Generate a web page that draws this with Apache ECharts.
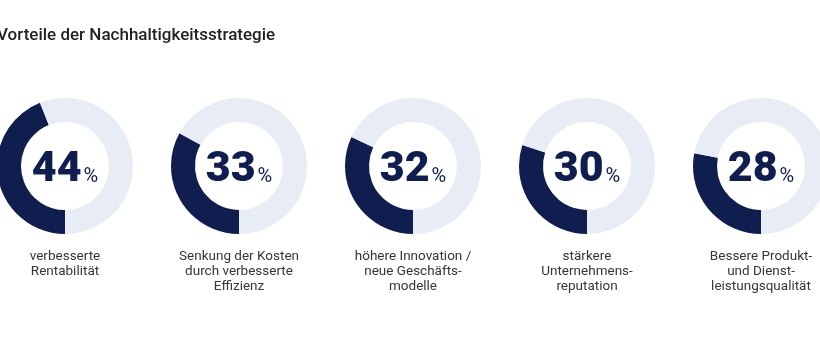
<!DOCTYPE html>
<html>
<head>
<meta charset="utf-8">
<script src="https://cdn.jsdelivr.net/npm/echarts@6/dist/echarts.min.js"></script>
<style>
html,body{margin:0;padding:0;background:#fff;}
#chart{width:820px;height:360px;}
</style>
</head>
<body>
<div id="chart"></div>
<script>
const titleText = 'Vorteile der Nachhaltigkeitsstrategie';
const categories = [
  'verbesserte\nRentabilität',
  'Senkung der Kosten\ndurch verbesserte\nEffizienz',
  'höhere Innovation /\nneue Geschäfts-\nmodelle',
  'stärkere\nUnternehmens-\nreputation',
  'Bessere Produkt-\nund Dienst-\nleistungsqualität'
];
const values = [44, 33, 32, 30, 28];

const DARK = '#101d4f';
const LIGHT = '#e8ecf5';
const FONT = 'Roboto, "Noto Sans", sans-serif';
const cx0 = 65, dx = 174, cy = 166;

const chart = echarts.init(document.getElementById('chart'), null, {renderer: 'canvas'});

const series = values.map((v, i) => ({
  type: 'pie',
  silent: true,
  center: [cx0 + dx * i, cy],
  radius: [44, 68],
  startAngle: 270,
  clockwise: true,
  avoidLabelOverlap: false,
  emphasis: {disabled: true},
  labelLine: {show: false},
  label: {
    show: true,
    position: 'center',
    formatter: p => '{n|' + p.value + '}{p|%}',
    rich: {
      n: {fontSize: 43, fontWeight: 900, color: DARK, fontFamily: FONT, lineHeight: 44, padding: [8, 0, 0, 0]},
      p: {fontSize: 20, fontWeight: 'normal', color: DARK, fontFamily: FONT, padding: [22, 0, 0, 2], lineHeight: 20}
    }
  },
  data: [
    {value: v, itemStyle: {color: DARK}},
    {value: 100 - v, itemStyle: {color: LIGHT}, label: {show: false}}
  ]
}));

const graphics = categories.map((c, i) => ({
  type: 'text',
  silent: true,
  style: {
    text: c,
    x: cx0 + dx * i,
    y: 249,
    textAlign: 'center',
    textVerticalAlign: 'top',
    fontSize: 13.5,
    lineHeight: 15,
    fontFamily: FONT,
    fill: '#363636'
  }
}));

chart.setOption({
  animation: false,
  backgroundColor: '#ffffff',
  title: {
    text: titleText,
    left: -3,
    top: 27,
    padding: 0,
    textStyle: {fontSize: 17, fontWeight: 500, color: '#222222', fontFamily: FONT}
  },
  graphic: graphics,
  series: series
});
</script>
</body>
</html>
